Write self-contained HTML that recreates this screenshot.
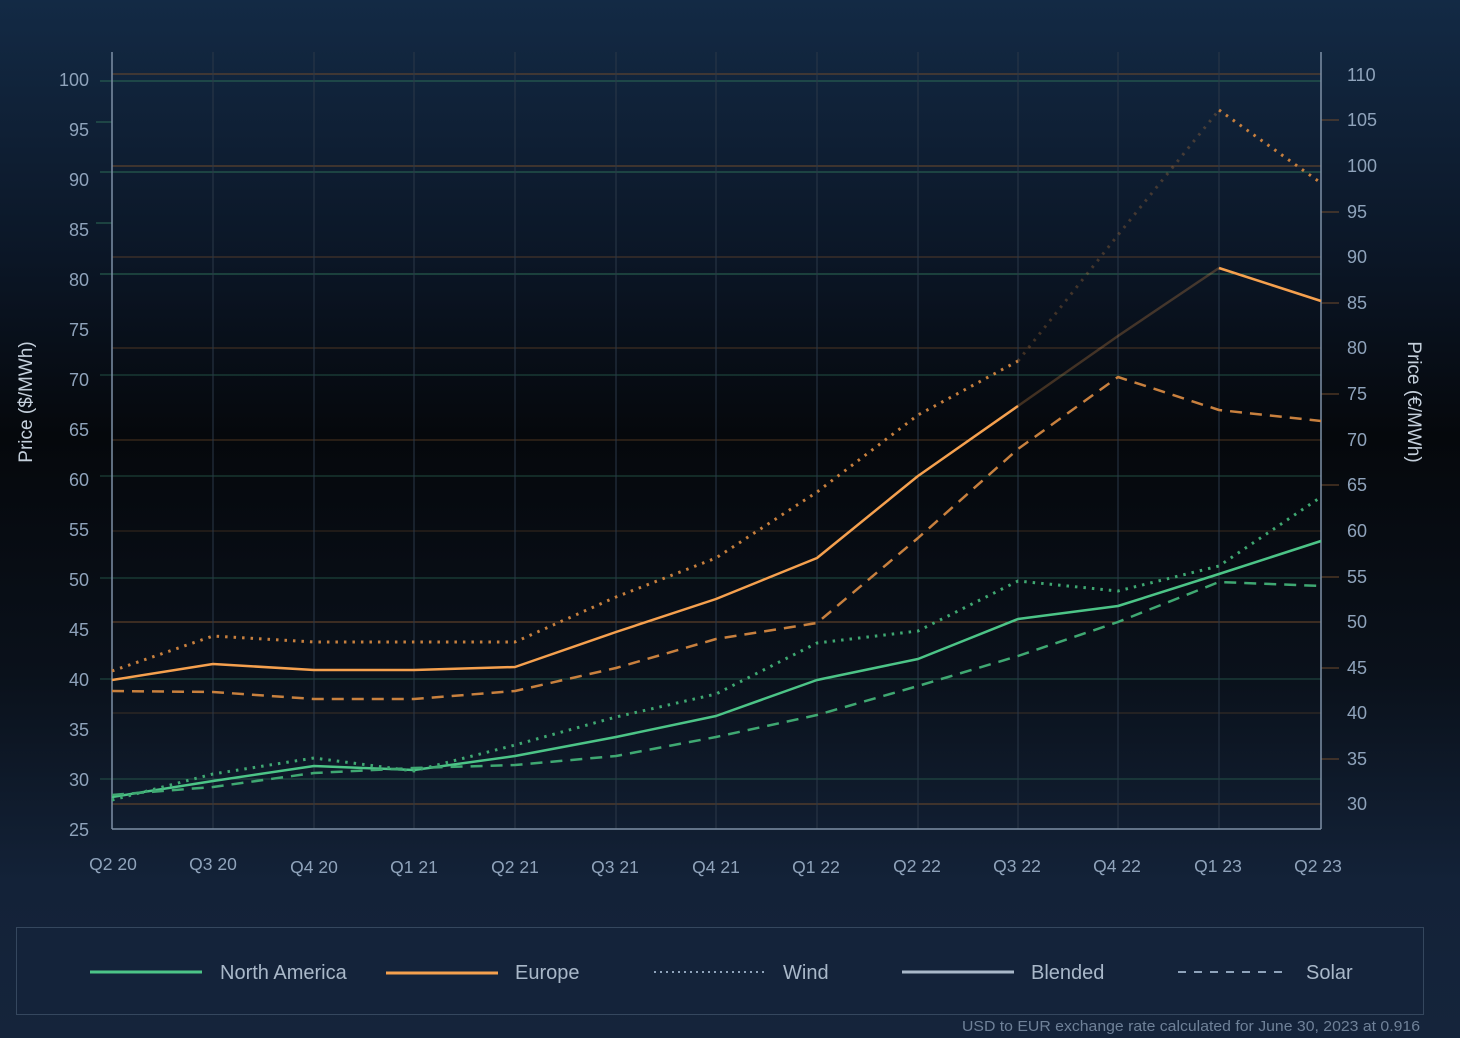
<!DOCTYPE html>
<html><head><meta charset="utf-8"><style>
html,body{margin:0;padding:0;width:1460px;height:1038px;overflow:hidden}
body{background:linear-gradient(180deg,#132a45 0%,#0b1626 25%,#05080c 42%,#0a111b 65%,#132238 85%,#15243b 100%)}
svg{display:block;font-family:"Liberation Sans",sans-serif}
</style></head><body>
<svg width="1460" height="1038" viewBox="0 0 1460 1038">
<g stroke-width="1">
<line x1="112" x2="1321" y1="74" y2="74" stroke="#6e4a2c"/>
<line x1="112" x2="1321" y1="166" y2="166" stroke="#6e4a2c"/>
<line x1="112" x2="1321" y1="257" y2="257" stroke="#6e4a2c" opacity=".7"/>
<line x1="112" x2="1321" y1="348" y2="348" stroke="#5e3f26" opacity=".8"/>
<line x1="112" x2="1321" y1="440" y2="440" stroke="#5e3f26" opacity=".8"/>
<line x1="112" x2="1321" y1="531" y2="531" stroke="#6e4a2c" opacity=".5"/>
<line x1="112" x2="1321" y1="622" y2="622" stroke="#6e4a2c"/>
<line x1="112" x2="1321" y1="713" y2="713" stroke="#6e4a2c" opacity=".5"/>
<line x1="112" x2="1321" y1="804" y2="804" stroke="#6e4a2c"/>
<line x1="100" x2="1321" y1="81" y2="81" stroke="#2c6a55"/>
<line x1="100" x2="1321" y1="172" y2="172" stroke="#2c6a55"/>
<line x1="100" x2="1321" y1="274" y2="274" stroke="#2c6a55"/>
<line x1="100" x2="1321" y1="375" y2="375" stroke="#2c6a55" opacity=".7"/>
<line x1="100" x2="1321" y1="476" y2="476" stroke="#2c6a55" opacity=".7"/>
<line x1="100" x2="1321" y1="578" y2="578" stroke="#2c6a55" opacity=".7"/>
<line x1="100" x2="1321" y1="679" y2="679" stroke="#2c6a55" opacity=".7"/>
<line x1="100" x2="1321" y1="779" y2="779" stroke="#2c6a55" opacity=".7"/>
<line x1="96" x2="112" y1="122" y2="122" stroke="#2c6a55"/>
<line x1="96" x2="112" y1="223" y2="223" stroke="#2c6a55"/>
<line x1="1321" x2="1339" y1="120" y2="120" stroke="#6e4a2c"/>
<line x1="1321" x2="1339" y1="212" y2="212" stroke="#6e4a2c"/>
<line x1="1321" x2="1339" y1="303" y2="303" stroke="#6e4a2c"/>
<line x1="1321" x2="1339" y1="394" y2="394" stroke="#6e4a2c"/>
<line x1="1321" x2="1339" y1="485" y2="485" stroke="#6e4a2c"/>
<line x1="1321" x2="1339" y1="577" y2="577" stroke="#6e4a2c"/>
<line x1="1321" x2="1339" y1="668" y2="668" stroke="#6e4a2c"/>
<line x1="1321" x2="1339" y1="759" y2="759" stroke="#6e4a2c"/>
</g>
<g stroke="#2b3848" stroke-width="1">
<line x1="213" x2="213" y1="52" y2="829"/><line x1="314" x2="314" y1="52" y2="829"/>
<line x1="414" x2="414" y1="52" y2="829"/><line x1="515" x2="515" y1="52" y2="829"/>
<line x1="616" x2="616" y1="52" y2="829"/><line x1="716" x2="716" y1="52" y2="829"/>
<line x1="817" x2="817" y1="52" y2="829"/><line x1="918" x2="918" y1="52" y2="829"/>
<line x1="1018" x2="1018" y1="52" y2="829"/><line x1="1118" x2="1118" y1="52" y2="829"/>
<line x1="1219" x2="1219" y1="52" y2="829"/>
</g>
<g stroke="#7d8fa5" stroke-width="1.5">
<line x1="112" x2="112" y1="52" y2="829"/>
<line x1="1321" x2="1321" y1="52" y2="829"/>
<line x1="112" x2="1321" y1="829" y2="829"/>
</g>
<g fill="#8fa3bb" font-size="18" text-anchor="end">
<text x="89" y="86">100</text><text x="89" y="136">95</text><text x="89" y="186">90</text><text x="89" y="236">85</text>
<text x="89" y="286">80</text><text x="89" y="336">75</text><text x="89" y="386">70</text><text x="89" y="436">65</text>
<text x="89" y="486">60</text><text x="89" y="536">55</text><text x="89" y="586">50</text><text x="89" y="636">45</text>
<text x="89" y="686">40</text><text x="89" y="736">35</text><text x="89" y="786">30</text><text x="89" y="836">25</text>
</g>
<g fill="#8fa3bb" font-size="18">
<text x="1347" y="81">110</text><text x="1347" y="126">105</text><text x="1347" y="172">100</text><text x="1347" y="218">95</text>
<text x="1347" y="263">90</text><text x="1347" y="309">85</text><text x="1347" y="354">80</text><text x="1347" y="400">75</text>
<text x="1347" y="446">70</text><text x="1347" y="491">65</text><text x="1347" y="537">60</text><text x="1347" y="583">55</text>
<text x="1347" y="628">50</text><text x="1347" y="674">45</text><text x="1347" y="719">40</text><text x="1347" y="765">35</text>
<text x="1347" y="810">30</text>
</g>
<g fill="#8fa3bb" font-size="17.5" text-anchor="middle">
<text x="113" y="870">Q2 20</text><text x="213" y="870">Q3 20</text><text x="314" y="873">Q4 20</text><text x="414" y="873">Q1 21</text>
<text x="515" y="873">Q2 21</text><text x="615" y="873">Q3 21</text><text x="716" y="873">Q4 21</text><text x="816" y="873">Q1 22</text>
<text x="917" y="872">Q2 22</text><text x="1017" y="872">Q3 22</text><text x="1117" y="872">Q4 22</text><text x="1218" y="872">Q1 23</text>
<text x="1318" y="872">Q2 23</text>
</g>
<text transform="translate(32,402) rotate(-90)" fill="#c5d0dc" font-size="19" text-anchor="middle">Price ($/MWh)</text>
<text transform="translate(1408,402) rotate(90)" fill="#c5d0dc" font-size="19" text-anchor="middle">Price (€/MWh)</text>
<g fill="none" stroke-linejoin="round">
<polyline stroke="#4cc487" stroke-width="2.5" points="112,797 213,781 314,766 414,770 515,756 616,737 716,716 817,680 918,659 1018,619 1118,606 1219,574 1321,541"/>
<polyline stroke="#3fa872" stroke-width="3" stroke-dasharray="2.5,6" points="112,800 213,774 314,758 414,771 515,745 616,717 716,694 817,643 918,631 1018,581 1118,591 1219,566 1321,497"/>
<polyline stroke="#3fa872" stroke-width="2.5" stroke-dasharray="12,8" points="112,795 213,787 314,773 414,768 515,765 616,756 716,737 817,715 918,686 1018,656 1118,622 1219,582 1321,586"/>
<polyline stroke="#f5a04e" stroke-width="2.5" points="112,680 213,664 314,670 414,670 515,667 616,632 716,599 817,558 918,476 1018,406"/>
<polyline stroke="#f5a04e" stroke-width="2.5" opacity=".25" points="1018,406 1118,336 1219,268"/>
<polyline stroke="#f5a04e" stroke-width="2.5" points="1219,268 1321,301"/>
<polyline stroke="#c8803e" stroke-width="3" stroke-dasharray="2.5,6" points="112,671 213,636 314,642 414,642 515,642 616,597 716,558 817,492 918,415 1018,361"/>
<polyline stroke="#c8803e" stroke-width="3" stroke-dasharray="2.5,6" opacity=".3" points="1018,361 1118,235 1219,110"/>
<polyline stroke="#c8803e" stroke-width="3" stroke-dasharray="2.5,6" points="1219,110 1321,183"/>
<polyline stroke="#c8803e" stroke-width="2.5" stroke-dasharray="12,8" points="112,691 213,692 314,699 414,699 515,691 616,668 716,639 817,623 918,538 1018,449 1118,377 1219,410 1321,421"/>
</g>
<rect x="16.5" y="927.5" width="1407" height="87" fill="#14233a" stroke="#35475e"/>
<g font-size="20" fill="#a9b8c9">
<line x1="90" x2="202" y1="972" y2="972" stroke="#4cc487" stroke-width="3"/>
<text x="220" y="979">North America</text>
<line x1="386" x2="498" y1="973" y2="973" stroke="#f5a04e" stroke-width="3"/>
<text x="515" y="979">Europe</text>
<line x1="654" x2="768" y1="972" y2="972" stroke="#8fa3bb" stroke-width="2" stroke-dasharray="2,4"/>
<text x="783" y="979">Wind</text>
<line x1="902" x2="1014" y1="972" y2="972" stroke="#a9b8c9" stroke-width="3"/>
<text x="1031" y="979">Blended</text>
<line x1="1178" x2="1290" y1="972" y2="972" stroke="#8fa3bb" stroke-width="2" stroke-dasharray="8,8"/>
<text x="1306" y="979">Solar</text>
</g>
<text x="1420" y="1031" font-size="15" fill="#6f8198" text-anchor="end" textLength="458" lengthAdjust="spacingAndGlyphs">USD to EUR exchange rate calculated for June 30, 2023 at 0.916</text>
</svg>
</body></html>
